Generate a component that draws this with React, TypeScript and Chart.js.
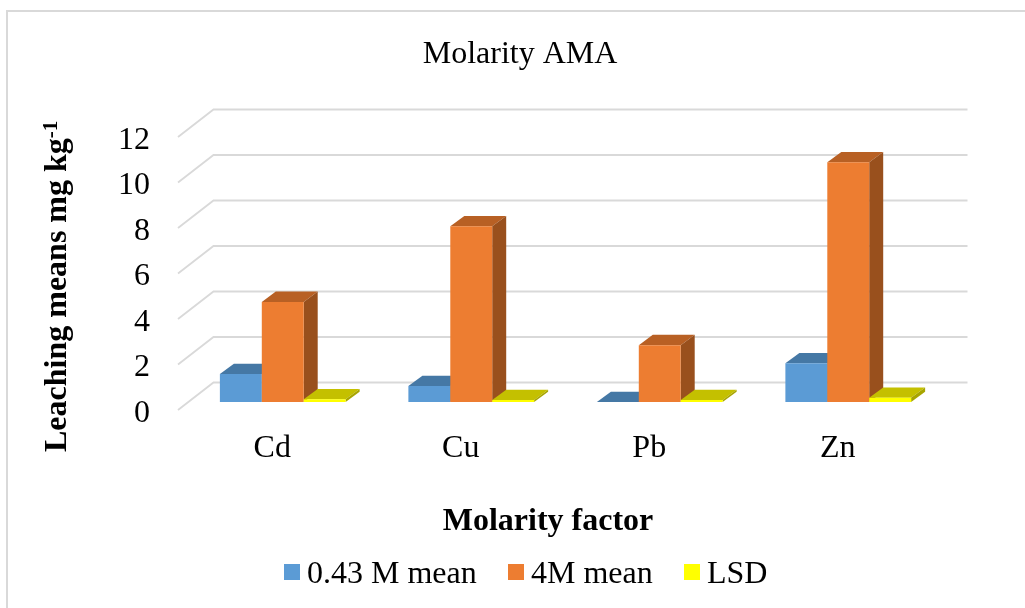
import React, { useEffect, useRef } from "react";
import { Chart, registerables } from "chart.js";

Chart.register(...registerables);

const categories = ["Cd", "Cu", "Pb", "Zn"];
const seriesLabels = ["0.43 M mean", "4M mean", "LSD"];
const lowMolarity = [1.23, 0.7, 0, 1.7];
const highMolarity = [4.4, 7.72, 2.5, 10.54];
const lsd = [0.12, 0.09, 0.09, 0.19];
const frontColors = ["#5B9BD5", "#ED7D31", "#FFFF00"];
const topColors = ["#4578A5", "#B86024", "#C4C000"];
const sideColors = ["#3C6890", "#99501D", "#A8A500"];
const yTicks = [0, 2, 4, 6, 8, 10, 12];
const chartTitle = "Molarity AMA";
const xTitle = "Molarity factor";
const yTitle = "Leaching means mg kg";
const yTitleSup = "-1";
const serif = '"Liberation Serif"';

const WALL = { dx: 35.5, dy: -27.5 };
const BAR_OFFSET = { dx: 10.5, dy: -8 };
const BAR_DEPTH = { dx: 14, dy: -10.3 };
const LEGEND_X = [{ box: 284, text: 307 }, { box: 508, text: 531 }, { box: 684, text: 707 }];
const Y_LABEL_SHIFT = 3.5;

const poly = (ctx: CanvasRenderingContext2D, pts: number[][], color: string) => {
  ctx.fillStyle = color;
  ctx.beginPath();
  pts.forEach((p, i) => (i ? ctx.lineTo(p[0], p[1]) : ctx.moveTo(p[0], p[1])));
  ctx.closePath();
  ctx.fill();
};

const scene3d = {
  id: "scene3d",
  beforeDraw(chart: any) {
    chart.scales.y.getLabelItems().forEach((item: any) => {
      if (!item.shifted) {
        item.options.translation = [item.options.translation[0], item.options.translation[1] + Y_LABEL_SHIFT];
        item.shifted = true;
      }
    });
  },
  beforeDatasetsDraw(chart: any) {
    const { ctx, scales, chartArea } = chart;
    ctx.save();
    ctx.strokeStyle = "#D9D9D9";
    ctx.lineWidth = 1.8;
    yTicks.forEach((t) => {
      const y = scales.y.getPixelForValue(t);
      ctx.beginPath();
      ctx.moveTo(chartArea.left, y);
      ctx.lineTo(chartArea.left + WALL.dx, y + WALL.dy);
      ctx.lineTo(chartArea.right + WALL.dx, y + WALL.dy);
      ctx.stroke();
    });
    ctx.restore();
    // Series are painted left to right so each bar's front hides its neighbour's top.
    chart.data.datasets.forEach((_: any, i: number) => {
      const meta = chart.getDatasetMeta(i);
      ctx.save();
      ctx.translate(BAR_OFFSET.dx, BAR_OFFSET.dy);
      meta.data.forEach((bar: any) => {
        const { x, y, base, width } = bar.getProps(["x", "y", "base", "width"], true);
        const l = x - width / 2;
        const r = x + width / 2;
        const d = BAR_DEPTH;
        poly(ctx, [[l, y], [r, y], [r + d.dx, y + d.dy], [l + d.dx, y + d.dy]], topColors[i]);
        poly(ctx, [[r, y], [r + d.dx, y + d.dy], [r + d.dx, base + d.dy], [r, base]], sideColors[i]);
      });
      meta.controller.draw();
      ctx.restore();
    });
    return false;
  },
  afterDraw(chart: any) {
    const { ctx, data } = chart;
    ctx.save();
    ctx.fillStyle = "#000";
    ctx.textBaseline = "alphabetic";
    ctx.textAlign = "center";
    ctx.font = `32px ${serif}`;
    ctx.fillText(chartTitle, 520, 63);
    ctx.font = `bold 32px ${serif}`;
    ctx.fillText(xTitle, 548, 530);
    ctx.textAlign = "left";
    ctx.font = `32px ${serif}`;
    data.datasets.forEach((ds: any, i: number) => {
      ctx.fillStyle = frontColors[i];
      ctx.fillRect(LEGEND_X[i].box, 564, 16, 16);
      ctx.fillStyle = "#000";
      ctx.fillText(ds.label, LEGEND_X[i].text, 583);
    });
    ctx.strokeStyle = "#D9D9D9";
    ctx.lineWidth = 2;
    ctx.beginPath();
    ctx.moveTo(7, 608);
    ctx.lineTo(7, 11);
    ctx.lineTo(1025, 11);
    ctx.stroke();
    ctx.translate(66, 452);
    ctx.rotate(-Math.PI / 2);
    ctx.font = `bold 32px ${serif}`;
    ctx.fillText(yTitle, 0, 0);
    const w = ctx.measureText(yTitle).width;
    ctx.font = `bold 21px ${serif}`;
    ctx.fillText(yTitleSup, w, -9);
    ctx.restore();
  },
};

export default function App() {
  const ref = useRef<HTMLCanvasElement>(null);
  useEffect(() => {
    const chart = new Chart(ref.current!, {
      type: "bar",
      data: {
        labels: categories,
        datasets: [lowMolarity, highMolarity, lsd].map((values, i) => ({
          label: seriesLabels[i],
          data: values,
          backgroundColor: frontColors[i],
          clip: false as any,
          categoryPercentage: 0.667,
          barPercentage: 1,
        })),
      },
      options: {
        animation: false,
        responsive: false,
        layout: { padding: { left: 0, right: 93, top: 137, bottom: 0 } },
        plugins: { legend: { display: false }, title: { display: false }, tooltip: { enabled: false } },
        scales: {
          x: {
            grid: { display: false },
            border: { display: false },
            afterFit: (s: any) => { s.height = 198; },
            ticks: { color: "#000", font: { family: serif, size: 32 }, padding: 11, maxRotation: 0, autoSkip: false },
          },
          y: {
            min: 0,
            max: 12,
            grid: { display: false },
            border: { display: false },
            afterFit: (s: any) => { s.width = 178; },
            afterBuildTicks: (s: any) => { s.ticks = yTicks.map((value) => ({ value })); },
            ticks: { color: "#000", font: { family: serif, size: 32 }, padding: 20 },
          },
        },
      },
      plugins: [scene3d],
    } as any);
    return () => chart.destroy();
  }, []);
  return (
    <canvas
      ref={ref}
      width={1025}
      height={608}
      style={{ position: "fixed", left: 0, top: 0, width: 1025, height: 608, display: "block" }}
    />
  );
}
